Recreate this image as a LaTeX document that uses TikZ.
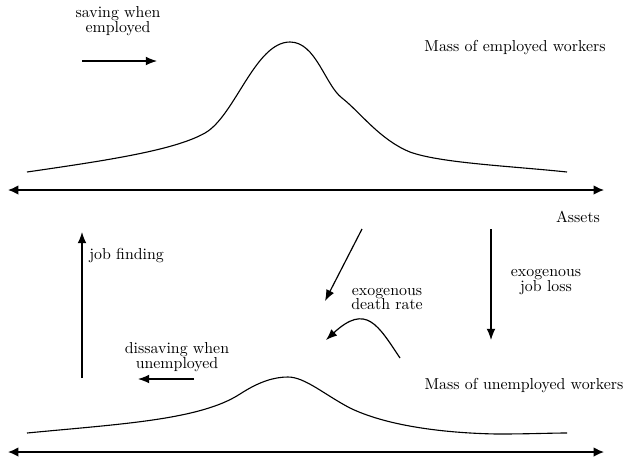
\documentclass[tikz,border=0pt]{standalone}
\usetikzlibrary{arrows.meta}
\begin{document}
\begin{tikzpicture}[x=0.63pt,y=-0.63pt,
  lbl/.style={inner sep=0pt,align=center,font=\fontsize{10}{9.4}\selectfont},
  arr/.style={line width=0.75pt,-{Latex[length=7pt,width=5.5pt]}},
  axis/.style={line width=1pt,{Latex[length=6.5pt,width=6pt]}-{Latex[length=6.5pt,width=6pt]}},
  curve/.style={line width=0.7pt}]
\useasboundingbox (0,0) rectangle (624,457);
% axes
\coordinate (a1l) at (8,190); \coordinate (a1r) at (604,190);
\coordinate (a2l) at (8,452); \coordinate (a2r) at (604,452);
\draw[axis] (a1l) -- (a1r);
\draw[axis] (a2l) -- (a2r);
% distributions
\draw[curve] (27,172) .. controls (110,160) and (175,150) .. (205,133)
  .. controls (235,116) and (255,42) .. (290,42)
  .. controls (316,42) and (325,85) .. (342,98)
  .. controls (360,112) and (380,140) .. (410,152)
  .. controls (440,163) and (510,166) .. (567,172);
\draw[curve] (27,433) .. controls (120,424) and (200,420) .. (240,394)
  .. controls (260,381) and (275,377) .. (288,377)
  .. controls (305,377) and (325,395) .. (350,408)
  .. controls (385,425) and (440,433) .. (497,434)
  .. controls (530,434) and (550,433) .. (567,433);
% labels
\node[lbl] (se) at (118,21) {saving when\\employed};
\node[lbl] (me) at (515,48) {Mass of employed workers};
\node[lbl] (as) at (578,217) {Assets};
\node[lbl,anchor=west] (jf) at (89,256) {job finding};
\node[lbl] (dr) at (387,299) {exogenous\\death rate};
\node[lbl] (jl) at (546,282) {exogenous\\ job loss};
\node[lbl] (du) at (177,357) {dissaving when\\ unemployed};
\node[lbl] (mu) at (524,386) {Mass of unemployed workers};
% arrows
\coordinate (s1) at (82,61); \coordinate (s2) at (157,61);
\draw[arr] (s1) -- (s2);
\coordinate (j1) at (82,378); \coordinate (j2) at (82,232);
\draw[arr] (j1) -- (j2);
\coordinate (d1) at (362,229); \coordinate (d2) at (325,301);
\draw[arr] (d1) -- (d2);
\coordinate (c1) at (400,358); \coordinate (c2) at (326,340);
\draw[arr] (c1) .. controls (378,325) and (366,303) .. (c2);
\coordinate (l1) at (491,229); \coordinate (l2) at (491,340);
\draw[arr] (l1) -- (l2);
\coordinate (u1) at (194,379); \coordinate (u2) at (138,379);
\draw[arr] (u1) -- (u2);
\end{tikzpicture}
\end{document}
